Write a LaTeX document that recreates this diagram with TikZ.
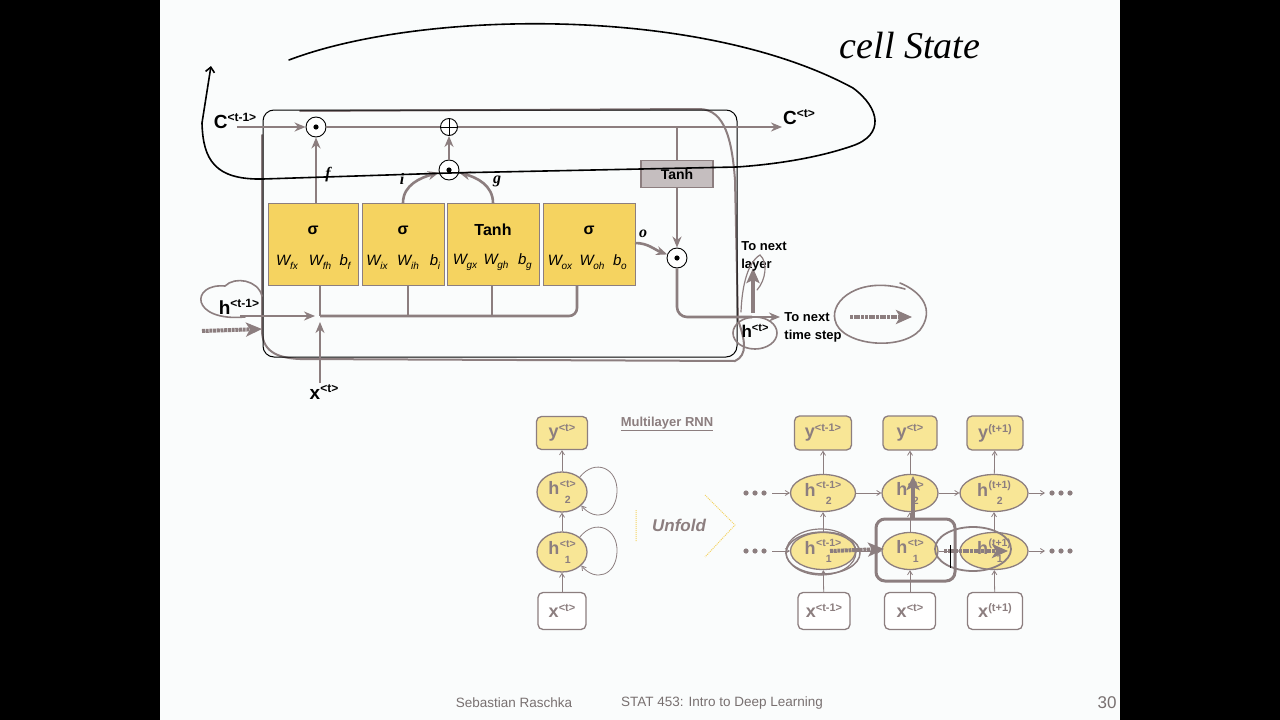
\documentclass[tikz,border=0pt]{standalone}
\usepackage{fontspec}
\setmainfont{Liberation Sans}
\newfontfamily\serifit{Liberation Serif}
\usetikzlibrary{arrows.meta,calc,shapes.geometric}
\definecolor{lg}{RGB}{140,126,127}
\definecolor{yel}{RGB}{245,211,96}
\definecolor{pyel}{RGB}{248,230,150}
\definecolor{bgw}{RGB}{250,252,252}
\definecolor{foot}{RGB}{120,112,112}
\newcommand{\supr}[3][12]{\raisebox{#2}{\fontsize{#1}{#1}\selectfont #3}}
\newcommand{\Wl}[2]{#1\kern-0.3pt\raisebox{-4pt}{\fontsize{10}{10}\selectfont #2}}
\newcommand{\hst}[2]{h\kern0.5pt\setbox0\hbox{\fontsize{10.5}{10.5}\selectfont #1}\rlap{\raisebox{7.5pt}{\copy0}}\makebox[\wd0][c]{\raisebox{-8.5pt}{\fontsize{10.5}{10.5}\selectfont #2}}}
\begin{document}
\begin{tikzpicture}[x=1pt,y=-1pt,
 gline/.style={draw=lg,line width=2.6pt},
 garr/.style={gline,-{Stealth[length=11pt,width=9pt,inset=3.5pt]}},
 hand/.style={draw=black,line width=1.6pt,line cap=round},
 gh/.style={draw=lg,line width=1.6pt,line cap=round},
 thk/.style={draw=lg,line width=4pt,-{Stealth[length=16pt,width=14pt,inset=4pt]},dash pattern=on 3pt off 0.7pt},
 gate/.style={rectangle,draw=lg,line width=0.8pt,fill=yel,inner sep=0},
 opc/.style={circle,draw=black,fill=white,line width=0.9pt,minimum size=20pt,inner sep=0},
 dotc/.style={opc,path picture={\fill[black] (path picture bounding box.center) circle (2.6pt);}},
 plusc/.style={opc,minimum size=17pt,path picture={\draw[line width=0.8pt] (path picture bounding box.north)--(path picture bounding box.south) (path picture bounding box.west)--(path picture bounding box.east);}},
 blab/.style={inner sep=0,font=\bfseries\fontsize{19}{19}\selectfont},
 gl/.style={inner sep=0,font=\serifit\bfseries\itshape\fontsize{16}{16}\selectfont},
 wl/.style={inner sep=0,font=\itshape\fontsize{15}{15}\selectfont},
 sg/.style={inner sep=0,font=\bfseries\fontsize{16}{16}\selectfont},
 side/.style={inner sep=0,font=\bfseries\fontsize{13}{18}\selectfont,align=left},
 rbox/.style={rectangle,rounded corners=5pt,draw=lg,line width=1.3pt,fill=pyel,inner sep=0,text=lg,font=\bfseries\fontsize{18}{18}\selectfont},
 xbox/.style={rbox,fill=white},
 hell/.style={ellipse,draw=lg,line width=1.3pt,fill=pyel,inner sep=0,text=lg,font=\bfseries\fontsize{18}{18}\selectfont},
 tarr/.style={draw=lg,line width=0.8pt,-{Straight Barb[length=4pt,width=5pt]}},
]
\useasboundingbox (0,0) rectangle (1280,720);
\fill[black] (0,0) rectangle (1280,720);
\fill[bgw] (160,0) rectangle (1120,720);

% ---------- LSTM cell ----------
\draw[gh,line width=2pt] (300,111) -- (700,109) .. controls (725,110) and (732,140) .. (735,180) -- (738,320) .. controls (745,340) and (748,355) .. (735,361) -- (300,359) .. controls (275,358) and (262,350) .. (262,330) -- (262,135);
\draw[black,line width=1pt,rounded corners=11pt] (263,110) rectangle (737,357);

\coordinate (c0) at (237,127);
\node[dotc] (m1) at (316,127) {};
\node[plusc] (pl) at (449,127) {};
\coordinate (c1) at (782,127);
\draw[garr] (c0) -- (m1);
\draw[gline] (m1) -- (pl);
\draw[garr] (pl) -- (c1);
\node[blab] (lc0) at (235,121) {C\supr{7pt}{<t-1>}};
\node[blab] (lc1) at (799,117) {C\supr{7pt}{<t>}};

\node[gate,minimum width=90pt,minimum height=82pt] (b1) at (313,244) {};
\node[gate,minimum width=82pt,minimum height=82pt] (b2) at (403,244) {};
\node[gate,minimum width=92pt,minimum height=82pt] (b3) at (493,244) {};
\node[gate,minimum width=92pt,minimum height=82pt] (b4) at (589,244) {};
\node[sg] (s1) at (313,230) {σ};
\node[sg] (s2) at (403,230) {σ};
\node[sg] (s3) at (493,230) {Tanh};
\node[sg] (s4) at (589,230) {σ};
\node[wl] (w11) at (287,262) {\Wl{W}{fx}};
\node[wl] (w12) at (320,262) {\Wl{W}{fh}};
\node[wl] (w13) at (345,262) {\Wl{b}{f}};
\node[wl] (w21) at (377,262) {\Wl{W}{ix}};
\node[wl] (w22) at (408,262) {\Wl{W}{ih}};
\node[wl] (w23) at (435,262) {\Wl{b}{i}};
\node[wl] (w31) at (465,262) {\Wl{W}{gx}};
\node[wl] (w32) at (496,262) {\Wl{W}{gh}};
\node[wl] (w33) at (525,262) {\Wl{b}{g}};
\node[wl] (w41) at (560,262) {\Wl{W}{ox}};
\node[wl] (w42) at (592,262) {\Wl{W}{oh}};
\node[wl] (w43) at (620,262) {\Wl{b}{o}};

\coordinate (f0) at (316,203);
\draw[garr] (f0) -- (m1);
\node[gl] (lf) at (328,175) {f};
\node[dotc] (m2) at (449,170) {};
\draw[garr] (m2) -- (pl);
\coordinate (i0) at (403,203);
\coordinate (g0) at (493,203);
\draw[garr] (i0) to[out=90,in=195] (m2);
\draw[garr] (g0) to[out=90,in=-15] (m2);
\node[gl] (li) at (402,179) {i};
\node[gl] (lg) at (497,181) {g};

\coordinate (tc) at (677,127);
\node[draw=lg,line width=1.2pt,fill=lg!50!white,minimum width=72pt,minimum height=27pt,inner sep=0,font=\bfseries\fontsize{14}{14}\selectfont] (tanh) at (677,174) {Tanh};
\draw[gline] (tc) -- (tanh);
\node[dotc] (m3) at (677,258) {};
\draw[garr] (tanh) -- (m3);
\coordinate (o0) at (635,243);
\draw[garr] (o0) to[out=0,in=160] (m3);
\node[gl] (lo) at (643,234) {o};

\coordinate (hj) at (752,317);
\coordinate (hout) at (780,317);
\draw[gline,rounded corners=10pt] (m3) -- (677,317) -- (hj);
\draw[garr] (hj) -- (hout);
\coordinate (hup) at (753,313);
\coordinate (nl) at (753,268);
\draw[draw=lg,line width=4pt,-{Stealth[length=15pt,width=13pt,inset=3pt]}] (hup) -- (nl);
\node[side] (tnl) at (764,256) {To next\\layer};
\node[side] (tns) at (813,327) {To next\\time step};
\node[blab,font=\bfseries\fontsize{17}{17}\selectfont] (lh) at (755,331) {h\supr[11]{6pt}{<t>}};

\coordinate (h0) at (240,316);
\coordinate (jn) at (320,316);
\draw[garr,shorten >=5pt] (h0) -- (jn);
\draw[gline] (jn) -- (jn |- b1.south);
\draw[gline,rounded corners=8pt] (jn) -- (577,316) -- (577,285);
\draw[gline] (408,316) -- (408,285);
\draw[gline] (492,316) -- (492,285);
\coordinate (x0) at (320,383);
\draw[garr,shorten >=6pt] (x0) -- (jn);
\node[blab] (lhp) at (239,307) {h\supr{7pt}{<t-1>}};
\node[blab] (lx) at (324,392) {x\supr{7pt}{<t>}};

% hand annotations (black)
\draw[hand,-{Straight Barb[length=5pt,width=9pt]}] (289,60) .. controls (420,10) and (700,5) .. (853,88) .. controls (880,108) and (885,135) .. (852,146) .. controls (820,157) and (780,164) .. (737,167) -- (449,173) -- (263,179) .. controls (215,180) and (203,160) .. (202,123) -- (211,66);
\node[font=\serifit\itshape\fontsize{38}{38}\selectfont] (cst) at (910,46) {cell State};

% hand annotations (gray)
\draw[gh] (245,317) .. controls (190,322) and (190,283) .. (225,286) .. controls (235,276) and (258,280) .. (262,296);
\draw[thk] (202,331) -- (262,329);
\draw[gh] (755,333) ellipse (22pt and 16pt);
\draw[gh,line width=1.2pt] (741,312) .. controls (742,285) and (748,262) .. (760,255) .. controls (768,262) and (766,280) .. (757,290);
\draw[gh] (905,289) .. controls (860,276) and (830,300) .. (835,320) .. controls (840,345) and (900,352) .. (920,330) .. controls (935,310) and (922,292) .. (900,283);
\draw[thk] (850,317) -- (912,317);

% ---------- Multilayer RNN (left) ----------
\node[rbox,minimum width=51pt,minimum height=33pt] (ly) at (562,433) {y\supr[11]{6pt}{<t>}};
\node[hell,minimum width=50pt,minimum height=40pt] (lh2) at (562,492) {\hst{<t>}{2}};
\node[hell,minimum width=50pt,minimum height=40pt] (lh1) at (562,552) {\hst{<t>}{1}};
\node[xbox,minimum width=48pt,minimum height=37pt] (lxx) at (562,611) {x\supr[11]{6pt}{<t>}};
\draw[tarr] (lxx) -- (lh1);
\draw[tarr] (lh1) -- (lh2);
\draw[tarr] (lh2) -- (ly);
\draw[tarr] (lh2.40) .. controls (595,458) and (618,468) .. (617,492) .. controls (616,516) and (595,522) .. (lh2.-35);
\draw[tarr] (lh1.40) .. controls (595,518) and (618,528) .. (617,552) .. controls (616,576) and (595,582) .. (lh1.-35);
\node[text=lg,font=\bfseries\fontsize{13}{13}\selectfont] (mr) at (667,424) {\underline{Multilayer RNN}};
\draw[yel,densely dotted,line width=1pt] (636,510) -- (636,541) (705,495) -- (735,525) -- (705,557);
\node[text=lg,font=\bfseries\itshape\fontsize{17}{17}\selectfont] (uf) at (679,525) {Unfold};

% ---------- Unfolded grid ----------
\node[rbox,minimum width=57pt,minimum height=34pt] (gy1) at (823,433) {y\supr[11]{6pt}{<t-1>}};
\node[rbox,minimum width=54pt,minimum height=34pt] (gy2) at (910,433) {y\supr[11]{6pt}{<t>}};
\node[rbox,minimum width=56pt,minimum height=34pt] (gy3) at (995,433) {y\supr[11]{6pt}{(t+1)}};
\node[hell,minimum width=65pt,minimum height=37pt] (gu1) at (823,493) {\hst{<t-1>}{2}};
\node[hell,minimum width=56pt,minimum height=37pt] (gu2) at (910,493) {\hst{<t>}{2}};
\node[hell,minimum width=68pt,minimum height=37pt] (gu3) at (994,493) {\hst{(t+1)}{2}};
\node[hell,minimum width=65pt,minimum height=37pt] (gl1) at (823,551) {\hst{<t-1>}{1}};
\node[hell,minimum width=56pt,minimum height=37pt] (gl2) at (910,551) {\hst{<t>}{1}};
\node[hell,minimum width=68pt,minimum height=37pt] (gl3) at (994,551) {\hst{(t+1)}{1}};
\node[xbox,minimum width=52pt,minimum height=37pt] (gx1) at (824,611) {x\supr[11]{6pt}{<t-1>}};
\node[xbox,minimum width=51pt,minimum height=37pt] (gx2) at (910,611) {x\supr[11]{6pt}{<t>}};
\node[xbox,minimum width=55pt,minimum height=37pt] (gx3) at (995,611) {x\supr[11]{6pt}{(t+1)}};
\foreach \r in {493,551}{
  \foreach \i in {746,755,764} \fill[lg] (\i,\r) circle (2.6pt);
  \foreach \i in {1052,1061,1070} \fill[lg] (\i,\r) circle (2.6pt);
}
\coordinate (dlu) at (772,493); \coordinate (dll) at (772,551);
\coordinate (dru) at (1045,493); \coordinate (drl) at (1045,551);
\draw[tarr] (dlu) -- (gu1); \draw[tarr] (gu1) -- (gu2); \draw[tarr] (gu2) -- (gu3); \draw[tarr] (gu3) -- (dru);
\draw[tarr] (dll) -- (gl1); \draw[tarr] (gl1) -- (gl2); \draw[tarr] (gl2) -- (gl3); \draw[tarr] (gl3) -- (drl);
\foreach \c in {1,2,3}{
  \draw[tarr] (gx\c) -- (gl\c);
  \draw[tarr] (gl\c) -- (gu\c);
  \draw[tarr] (gu\c) -- (gy\c);
}
% gray annotations in grid
\draw[gh,line width=1.5pt] (823,553) ellipse (37pt and 21pt);
\draw[gh,line width=1.2pt] (821,552) ellipse (35pt and 23pt);
\draw[thk] (830,551) -- (884,549);
\draw[draw=lg,line width=3pt,rounded corners=9pt] (876,519) rectangle (955,581);
\draw[draw=lg,line width=4pt,-{Stealth[length=14pt,width=13pt,inset=3pt]}] (913,520) -- (913,476);
\draw[gh,line width=1.8pt] (973,549) ellipse (38pt and 22pt);
\draw[thk] (944,551) -- (1008,551);
\draw[black,line width=1pt] (950,545) -- (950,568);

% ---------- footer ----------
\node[text=foot,font=\fontsize{13.5}{14}\selectfont] (fa) at (514,703) {Sebastian Raschka};
\node[text=foot,font=\fontsize{13.5}{14}\selectfont] (fb) at (722,703) {STAT 453: Intro to Deep Learning};
\node[text=foot,font=\fontsize{17}{17}\selectfont] (fc) at (1107,703) {30};
\end{tikzpicture}
\end{document}
